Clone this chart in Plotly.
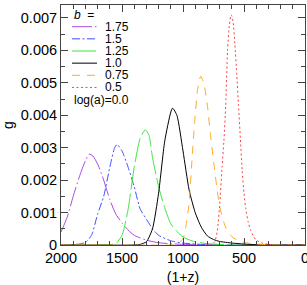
import plotly.graph_objects as go

# ---- data ----
b_labels = ["1.75", "1.5", "1.25", "1.0", "0.75", "0.5"]

x_175 = [2000, 1950, 1900, 1850, 1800, 1770, 1740, 1700, 1650, 1600, 1550, 1500, 1450, 1400, 1300, 1200, 1100, 1000, 900, 800, 0]
y_175 = [0.00040, 0.00085, 0.0015, 0.0021, 0.0026, 0.0028, 0.00275, 0.0025, 0.0020, 0.0014, 0.00095, 0.00068, 0.00046, 0.0003, 0.00015, 0.00007, 0.00004, 0.00002, 0.00001, 0.0, 0.0]

x_150 = [2000, 1900, 1850, 1800, 1750, 1700, 1650, 1600, 1560, 1540, 1500, 1450, 1400, 1350, 1300, 1250, 1200, 1100, 1000, 900, 800, 700, 0]
y_150 = [0.0, 0.00001, 0.00003, 0.00008, 0.0003, 0.00095, 0.0015, 0.0024, 0.0030, 0.0031, 0.0029, 0.0024, 0.0018, 0.0011, 0.0008, 0.0005, 0.0003, 0.00013, 0.00006, 0.00003, 0.00001, 0.0, 0.0]

x_125 = [2000, 1700, 1600, 1550, 1500, 1450, 1400, 1350, 1310, 1280, 1250, 1200, 1150, 1100, 1050, 1000, 950, 900, 800, 700, 600, 0]
y_125 = [0.0, 0.0, 0.00001, 0.00005, 0.0003, 0.0011, 0.0024, 0.0033, 0.00355, 0.0034, 0.0027, 0.0018, 0.00115, 0.00065, 0.00042, 0.00025, 0.00016, 0.0001, 0.00004, 0.00002, 0.0, 0.0]

x_100 = [2000, 1400, 1350, 1300, 1250, 1200, 1150, 1100, 1085, 1050, 1000, 950, 900, 850, 800, 750, 700, 600, 500, 400, 300, 0]
y_100 = [0.0, 0.0, 0.00002, 0.0001, 0.0005, 0.0016, 0.0032, 0.0041, 0.00422, 0.0040, 0.0029, 0.0017, 0.0010, 0.00055, 0.00028, 0.00017, 0.00011, 0.00006, 0.00003, 0.00001, 0.0, 0.0]

x_075 = [2000, 1100, 1050, 1000, 975, 950, 925, 900, 880, 855, 830, 800, 775, 750, 720, 700, 665, 640, 600, 550, 500, 400, 300, 200, 0]
y_075 = [0.0, 0.0, 0.00002, 0.0002, 0.0006, 0.0013, 0.0027, 0.0040, 0.0048, 0.0052, 0.0050, 0.0043, 0.0034, 0.0026, 0.0017, 0.0012, 0.0007, 0.00045, 0.00026, 0.00014, 0.00008, 0.00003, 0.00001, 0.0, 0.0]

x_050 = [2000, 800, 760, 740, 720, 700, 680, 665, 650, 635, 620, 605, 590, 575, 560, 545, 530, 515, 500, 485, 465, 445, 420, 400, 350, 300, 250, 0]
y_050 = [0.0, 0.0, 0.00003, 0.0001, 0.0004, 0.0012, 0.0024, 0.0032, 0.0043, 0.0060, 0.0068, 0.0071, 0.0069, 0.0062, 0.0053, 0.0043, 0.0033, 0.0023, 0.0016, 0.0011, 0.0007, 0.00045, 0.00025, 0.00015, 0.00006, 0.00002, 0.0, 0.0]

x_tickvals = [2000, 1500, 1000, 500, 0]
x_ticktext = ["2000", "1500", "1000", "500", "0"]
y_tickvals = [0, 0.001, 0.002, 0.003, 0.004, 0.005, 0.006, 0.007]
y_ticktext = ["0", "0.001", "0.002", "0.003", "0.004", "0.005", "0.006", "0.007"]

xs = [x_175, x_150, x_125, x_100, x_075, x_050]
ys = [y_175, y_150, y_125, y_100, y_075, y_050]

# ---- styles ----
colors = ["#a848e8", "#3c50ff", "#3ce83c", "#000000", "#ffaa28", "#ff4040"]
dashes = ["20px,3px,1.5px,3px", "8px,2.5px,2px,2.5px", "24px,4px", "solid", "8px,7px", "2px,2.5px"]
FONT = "Liberation Sans, Arial, sans-serif"
FRAME = "#444444"

W, H = 307, 285
ML, MR, MT, MB = 61, 2, 5, 40
PW, PH = W - ML - MR, H - MT - MB

fig = go.Figure()
for x, y, lab, c, d in zip(xs, ys, b_labels, colors, dashes):
    fig.add_trace(go.Scatter(x=x, y=y, mode="lines", name=lab,
                             line=dict(color=c, width=1, dash=d, shape="spline", smoothing=0.6),
                             showlegend=False))

def px2paper(px, py):
    return (px - ML) / PW, (H - MB - py) / PH

# manual legend (compact like the reference)
tx, ty = px2paper(72, 15)
fig.add_annotation(x=tx, y=ty, xref="paper", yref="paper", xanchor="left", yanchor="middle",
                   text="<i>b</i>\u00a0\u00a0=", showarrow=False, font=dict(size=12, family=FONT, color="black"))
for i, (lab, c, d) in enumerate(zip(b_labels, colors, dashes)):
    py = 26.7 + 12.15 * i
    x0, y0 = px2paper(72, py)
    x1, _ = px2paper(97, py)
    fig.add_shape(type="line", xref="paper", yref="paper", x0=x0, x1=x1, y0=y0, y1=y0,
                  line=dict(color=c, width=1, dash=d))
    lx, _ = px2paper(103, py)
    fig.add_annotation(x=lx, y=y0, xref="paper", yref="paper", xanchor="left", yanchor="middle",
                       text=lab, showarrow=False, font=dict(size=12, family=FONT, color="black"))
lx, ly = px2paper(72, 26.7 + 12.15 * 6)
fig.add_annotation(x=lx, y=ly, xref="paper", yref="paper", xanchor="left", yanchor="middle",
                   text="log(a)=0.0", showarrow=False, font=dict(size=12, family=FONT, color="black"))

axis_common = dict(showline=True, linecolor=FRAME, linewidth=1, mirror="allticks",
                   ticks="inside", ticklen=7, tickcolor=FRAME, tickwidth=1,
                   showgrid=False, zeroline=False, ticklabeloverflow="allow",
                   tickfont=dict(size=14.5, family=FONT, color="black"))

fig.update_xaxes(range=[2000, 0], tickmode="array", tickvals=x_tickvals, ticktext=x_ticktext,
                 minor=dict(dtick=100, ticks="inside", ticklen=4, tickcolor=FRAME, showgrid=False),
                 title=dict(text="(1+z)", font=dict(size=14, family=FONT, color="black"), standoff=7),
                 **axis_common)
fig.update_yaxes(range=[0, 0.0074], tickmode="array", tickvals=y_tickvals, ticktext=y_ticktext,
                 minor=dict(dtick=0.0005, ticks="inside", ticklen=4, tickcolor=FRAME, showgrid=False),
                 title=dict(text="g", font=dict(size=14, family=FONT, color="black"), standoff=8),
                 **axis_common)

fig.update_layout(width=W, height=H, margin=dict(l=ML, r=MR, t=MT, b=MB, autoexpand=False),
                  paper_bgcolor="white", plot_bgcolor="white", showlegend=False,
                  font=dict(family=FONT, color="black"))

fig.write_html("out.html", config={"displayModeBar": False},
               post_script="document.body.style.margin='0';document.body.style.padding='0';document.body.style.overflow='hidden';")
